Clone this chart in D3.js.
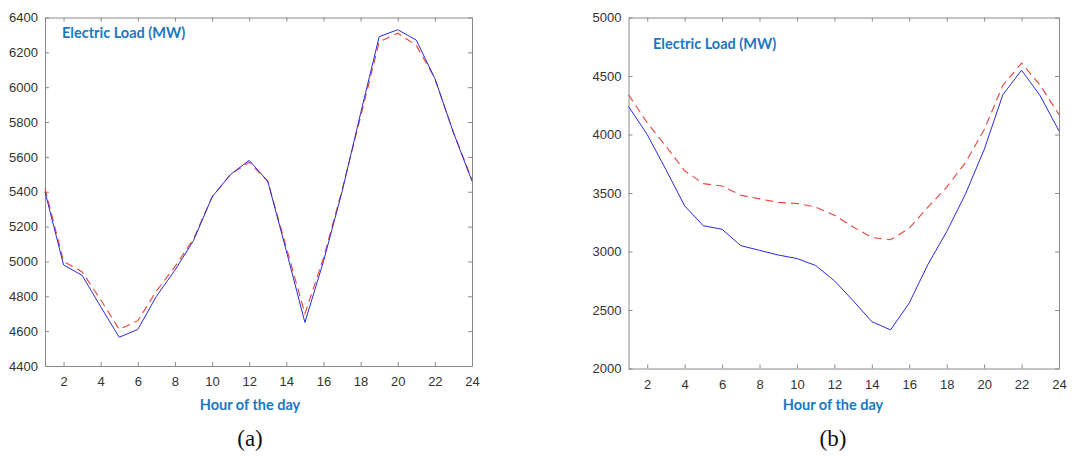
<!DOCTYPE html>
<html>
<head>
<meta charset="utf-8">
<script src="https://cdn.jsdelivr.net/npm/d3@7"></script>
<style>
  body { margin: 0; background: #fff; }
</style>
</head>
<body>
<svg id="canvas" width="1085" height="460"></svg>
<script>
// horas del dia
let hours = d3.range(1, 25);

// panel (a)
let actualA = [5400, 4980, 4920, 4740, 4565, 4610, 4800, 4950, 5120, 5370, 5500, 5580,
               5460, 5060, 4650, 5000, 5400, 5850, 6290, 6330, 6270, 6050, 5740, 5460];
let forecastA = [5420, 5000, 4940, 4780, 4610, 4660, 4830, 4970, 5130, 5370, 5500, 5570,
                 5460, 5080, 4700, 5020, 5410, 5830, 6260, 6310, 6240, 6050, 5740, 5470];
let yTicksA = [4400, 4600, 4800, 5000, 5200, 5400, 5600, 5800, 6000, 6200, 6400];

// panel (b)
let actualB = [4240, 4000, 3700, 3390, 3220, 3190, 3050, 3010, 2970, 2940, 2880, 2750,
               2580, 2400, 2330, 2560, 2890, 3170, 3490, 3870, 4340, 4550, 4330, 4030];
let forecastB = [4340, 4100, 3900, 3690, 3580, 3560, 3480, 3450, 3420, 3410, 3380, 3310,
                 3210, 3120, 3100, 3200, 3380, 3550, 3760, 4040, 4420, 4610, 4420, 4170];
let yTicksB = [2000, 2500, 3000, 3500, 4000, 4500, 5000];

let xTicks = [2, 4, 6, 8, 10, 12, 14, 16, 18, 20, 22, 24];

let canvas = d3.select('#canvas');

let drawPanel = (cfg) => {
    let x = d3.scaleLinear().domain([1, 24]).range([cfg.left, cfg.right]);
    let y = d3.scaleLinear().domain(cfg.yDomain).range([cfg.bottom, cfg.top]);
    let g = canvas.append('g');
    let axisColor = '#8a8a8a';

    // ejes abajo/arriba/izq/der con ticks hacia adentro (estilo matlab)
    g.append('g').attr('transform', `translate(0,${cfg.bottom})`)
        .call(d3.axisBottom(x).tickValues(xTicks).tickSizeInner(-4).tickSizeOuter(0).tickPadding(11));
    g.append('g').attr('transform', `translate(0,${cfg.top})`)
        .call(d3.axisTop(x).tickValues(xTicks).tickSizeInner(-4).tickSizeOuter(0).tickFormat(''));
    g.append('g').attr('transform', `translate(${cfg.left},0)`)
        .call(d3.axisLeft(y).tickValues(cfg.yTicks).tickFormat(d3.format('d'))
            .tickSizeInner(-4).tickSizeOuter(0).tickPadding(7));
    g.append('g').attr('transform', `translate(${cfg.right},0)`)
        .call(d3.axisRight(y).tickValues(cfg.yTicks).tickSizeInner(-4).tickSizeOuter(0).tickFormat(''));

    g.selectAll('.domain').attr('stroke', axisColor);
    g.selectAll('.tick line').attr('stroke', axisColor);
    g.selectAll('.tick text').attr('fill', '#333')
        .style('font-family', 'Arial, "Liberation Sans", sans-serif').style('font-size', '13px');

    let line = (vals) => d3.line().x((d, i) => x(hours[i])).y(d => y(d))(vals);

    g.append('path').attr('d', line(cfg.forecast))
        .attr('fill', 'none').attr('stroke', '#e8453c').attr('stroke-width', 1.1)
        .attr('stroke-dasharray', '8,5');
    g.append('path').attr('d', line(cfg.actual))
        .attr('fill', 'none').attr('stroke', '#2b2bd8').attr('stroke-width', 1);

    g.append('text').attr('x', cfg.titleX).attr('y', cfg.titleY)
        .text('Electric Load (MW)')
        .style('font-family', 'Lato, "Open Sans", sans-serif')
        .style('font-weight', 'bold').style('font-size', '14.5px').attr('fill', '#1a78c2');

    g.append('text').attr('x', cfg.labelX).attr('y', 410).attr('text-anchor', 'middle')
        .text('Hour of the day')
        .style('font-family', 'Lato, "Open Sans", sans-serif')
        .style('font-weight', 'bold').style('font-size', '14.5px').attr('fill', '#1a78c2');

    g.append('text').attr('x', cfg.labelX).attr('y', 446).attr('text-anchor', 'middle')
        .text(cfg.caption)
        .style('font-family', '"Liberation Serif", "DejaVu Serif", serif')
        .style('font-size', '23px').attr('fill', '#111');
};

drawPanel({
    left: 45, right: 472, top: 17.5, bottom: 366,
    yDomain: [4400, 6400], yTicks: yTicksA,
    actual: actualA, forecast: forecastA,
    titleX: 62, titleY: 38, labelX: 250, caption: '(a)'
});

drawPanel({
    left: 628.5, right: 1059, top: 17.5, bottom: 368.5,
    yDomain: [2000, 5000], yTicks: yTicksB,
    actual: actualB, forecast: forecastB,
    titleX: 653, titleY: 49, labelX: 833, caption: '(b)'
});
</script>
</body>
</html>
